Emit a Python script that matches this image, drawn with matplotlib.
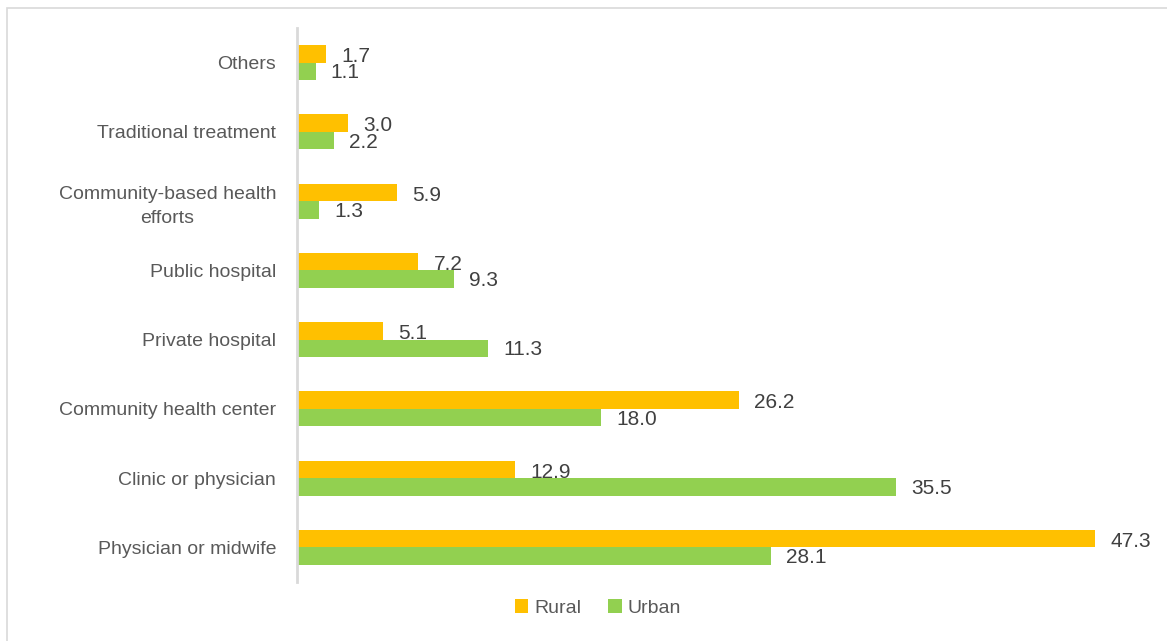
import numpy as np
import matplotlib.pyplot as plt
from matplotlib.patches import Rectangle

plt.rcParams['font.family'] = ['Liberation Sans Narrow', 'Liberation Sans', 'DejaVu Sans']

# Share of respondents by place of treatment (%)
categories = ['Others', 'Traditional treatment', 'Community-based health\nefforts',
              'Public hospital', 'Private hospital', 'Community health center',
              'Clinic or physician', 'Physician or midwife']
rural = [1.7, 3.0, 5.9, 7.2, 5.1, 26.2, 12.9, 47.3]
urban = [1.1, 2.2, 1.3, 9.3, 11.3, 18.0, 35.5, 28.1]

rural_color = '#FFC000'
urban_color = '#92D050'
label_color = '#404040'
cat_color = '#595959'

W, H = 1167, 641
fig = plt.figure(figsize=(W / 100, H / 100), dpi=100)

# light frame around the chart area
fig.patches.append(Rectangle((7 / W, -0.2), 1.2, 1.2 - 8 / H, transform=fig.transFigure,
                             fill=False, edgecolor='#D9D9D9', linewidth=1.2))

ax = fig.add_axes([297 / W, 1 - 582 / H, 843.5 / W, 554 / H])

y = np.arange(len(categories))
h = 0.253
ax.barh(y - h / 2, rural, height=h, color=rural_color, label='Rural')
ax.barh(y + h / 2, urban, height=h, color=urban_color, label='Urban')

for yi, v in zip(y - h / 2, rural):
    ax.annotate(f'{v:.1f}', (v, yi), xytext=(11, -2), textcoords='offset points',
                ha='left', va='center', fontsize=15, color=label_color)
for yi, v in zip(y + h / 2, urban):
    ax.annotate(f'{v:.1f}', (v, yi), xytext=(11, -1), textcoords='offset points',
                ha='left', va='center', fontsize=15, color=label_color)

ax.set_xlim(0, 50)
ax.set_ylim(len(categories) - 0.5, -0.5)
ax.set_yticks(y)
ax.set_yticklabels(categories, fontsize=14, color=cat_color, ha='right',
                   multialignment='center', linespacing=1.55)
ax.tick_params(axis='y', length=0, pad=15)
ax.set_xticks([])

for side in ['top', 'right', 'bottom']:
    ax.spines[side].set_visible(False)
ax.spines['left'].set_color('#D9D9D9')
ax.spines['left'].set_linewidth(2)

fig.legend(loc='center', bbox_to_anchor=(598 / W, 1 - 608 / H), ncol=2, frameon=False,
           fontsize=14, handlelength=0.7, handleheight=0.7, handletextpad=0.3,
           columnspacing=1.4, labelcolor=cat_color)

fig.savefig('out.png', dpi=100)
